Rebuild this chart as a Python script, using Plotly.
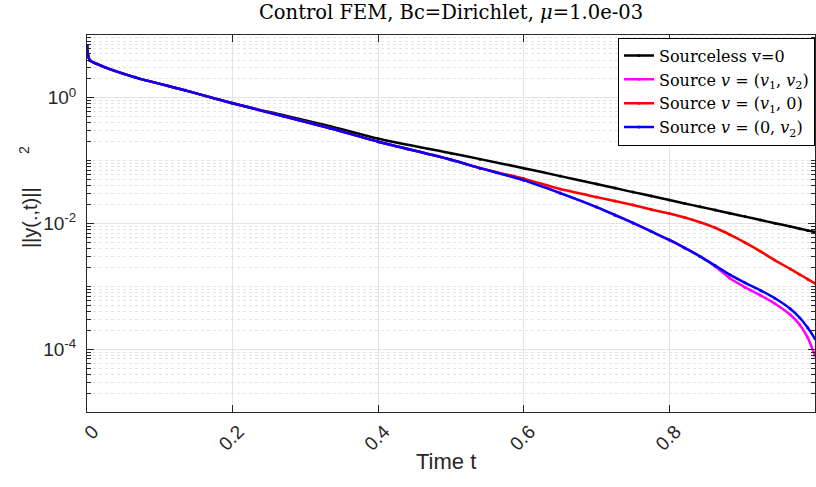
import plotly.graph_objects as go

# ---------------- data ----------------
t = [0, 0.0014, 0.004, 0.025, 0.066, 0.135, 0.2, 0.27, 0.334, 0.4, 0.5, 0.54,
     0.6, 0.65, 0.7, 0.725, 0.75, 0.775, 0.8, 0.821, 0.842, 0.863, 0.883, 0.904,
     0.925, 0.945, 0.966, 0.979, 0.99, 1.0]

sourceless = [6.81, 4.73, 3.94, 3.05, 2.12, 1.315, 0.818, 0.527, 0.353, 0.2235, 0.1315, 0.1057,
              0.0760, 0.0568, 0.0424, 0.0366, 0.0316, 0.02741, 0.0236, 0.02085, 0.01848,
              0.01638, 0.01452, 0.01287, 0.01136, 0.01011, 0.00896, 0.00827, 0.00774, 0.00733]

source_v1_v2 = [6.81, 4.73, 3.94, 3.05, 2.12, 1.315, 0.818, 0.508, 0.328, 0.2003, 0.1037, 0.076,
                0.049, 0.0305, 0.01828, 0.01365, 0.0102, 0.00747, 0.00547, 0.00408, 0.002994,
                0.002077, 0.00134, 0.000964, 0.00072, 0.000528, 0.000353, 0.0002448,
                0.0001523, 7.88e-5]

source_v1_0 = [6.81, 4.73, 3.94, 3.05, 2.12, 1.315, 0.818, 0.508, 0.328, 0.2003, 0.1037, 0.076,
               0.0518, 0.0353, 0.0263, 0.02276, 0.01966, 0.01668, 0.01441, 0.01245, 0.01049,
               0.00855, 0.00664, 0.00496, 0.00361, 0.002596, 0.001896, 0.001545, 0.001301,
               0.001116]

source_0_v2 = [6.81, 4.73, 3.94, 3.05, 2.12, 1.315, 0.818, 0.508, 0.328, 0.2003, 0.1037, 0.076,
               0.049, 0.0305, 0.01828, 0.01365, 0.0102, 0.00747, 0.00547, 0.00408, 0.002994,
               0.002131, 0.001533, 0.001136, 0.000864, 0.000645, 0.000439, 0.000316,
               0.0002195, 0.0001468]

series_names = ["Sourceless v=0",
                "Source <i>v</i> = (<i>v</i><sub>1</sub>, <i>v</i><sub>2</sub>)",
                "Source <i>v</i> = (<i>v</i><sub>1</sub>, 0)",
                "Source <i>v</i> = (0, <i>v</i><sub>2</sub>)"]
series_colors = ["#000000", "#ff00ff", "#ff0000", "#0000ff"]

x_tick_vals = [0, 0.2, 0.4, 0.6, 0.8, 1]
x_tick_text = ["0", "0.2", "0.4", "0.6", "0.8", "1"]
y_tick_vals = [1e-4, 1e-2, 1]
y_tick_text = ["10<sup>-4</sup>", "10<sup>-2</sup>", "10<sup>0</sup>"]
y_minor_vals = [k * 10.0 ** n for n in range(-5, 1) for k in range(1, 10)
                if not (k == 1 and n in (-4, -2, 0))] + [10.0]

title_text = "Control FEM, Bc=Dirichlet, <i>μ</i>=1.0e-03"
x_title = "Time t"
y_title = "||y(.,t)||&nbsp;&nbsp;&nbsp;&nbsp;&nbsp;&nbsp;<sup>2</sup>"

# ---------------- figure ----------------
fig = go.Figure()
for ys, name, col in zip([sourceless, source_v1_v2, source_v1_0, source_0_v2],
                         series_names, series_colors):
    fig.add_trace(go.Scatter(
        x=t, y=ys, name=name, mode="lines+markers",
        line=dict(color=col, width=2.5, shape="spline", smoothing=0.6),
        marker=dict(color=col, size=3),
    ))

axis_col = "#262626"
sans = "Liberation Sans, Arial, sans-serif"
serif = "DejaVu Serif, Liberation Serif, serif"
tick_font = dict(family=sans, size=19, color=axis_col)

fig.update_layout(
    width=816, height=487,
    margin=dict(l=87, r=1, t=35, b=75, autoexpand=False),
    paper_bgcolor="white", plot_bgcolor="white",
    showlegend=True,
    title=dict(text=title_text, x=0.5, xref="paper", xanchor="center",
               y=1 - 12 / 487, yref="container", yanchor="middle",
               font=dict(family=serif, size=19.5, color="black")),
    legend=dict(x=1, xanchor="right", y=0.993, yanchor="top",
                bgcolor="white", bordercolor="black", borderwidth=1,
                font=dict(family=serif, size=16, color="black"),
                tracegroupgap=0, itemwidth=30),
    xaxis=dict(range=[0, 1], tickmode="array", tickvals=x_tick_vals, ticktext=x_tick_text,
               tickangle=-45, ticks="inside", ticklen=7, tickcolor=axis_col,
               showline=True, linecolor=axis_col, linewidth=1, mirror="ticks",
               showgrid=True, gridcolor="#e3e3e3", gridwidth=1, zeroline=False,
               tickfont=tick_font, automargin=False, ticklabelshift=6),
    yaxis=dict(type="log", range=[-5, 1], tickmode="array", tickvals=y_tick_vals,
               ticktext=y_tick_text, ticks="inside", ticklen=7, tickcolor=axis_col,
               showline=True, linecolor=axis_col, linewidth=1, mirror="ticks",
               showgrid=True, gridcolor="#e3e3e3", gridwidth=1, zeroline=False,
               tickfont=tick_font, automargin=False, ticklabelstandoff=6,
               minor=dict(tickmode="array", tickvals=y_minor_vals, ticks="inside",
                          ticklen=4, tickcolor=axis_col, showgrid=True,
                          gridcolor="#e4e4e4", griddash="dot", gridwidth=1)),
    annotations=[
        dict(text=x_title, xref="paper", yref="paper", x=0.493, y=-(461 - 412) / 377,
             xanchor="center", yanchor="middle", showarrow=False,
             font=dict(family=sans, size=22, color=axis_col)),
        dict(text=y_title, xref="paper", yref="paper", x=-(87 - 28) / 728, y=0.57,
             xanchor="center", yanchor="middle", showarrow=False, textangle=-90,
             font=dict(family=sans, size=20, color=axis_col)),
    ],
)

# remove the default page margin so the 816x487 figure sits at the window origin
fig.write_html("out.html", config={"displayModeBar": False},
               post_script="document.body.style.margin='0';"
                           "document.body.style.overflow='hidden';")
